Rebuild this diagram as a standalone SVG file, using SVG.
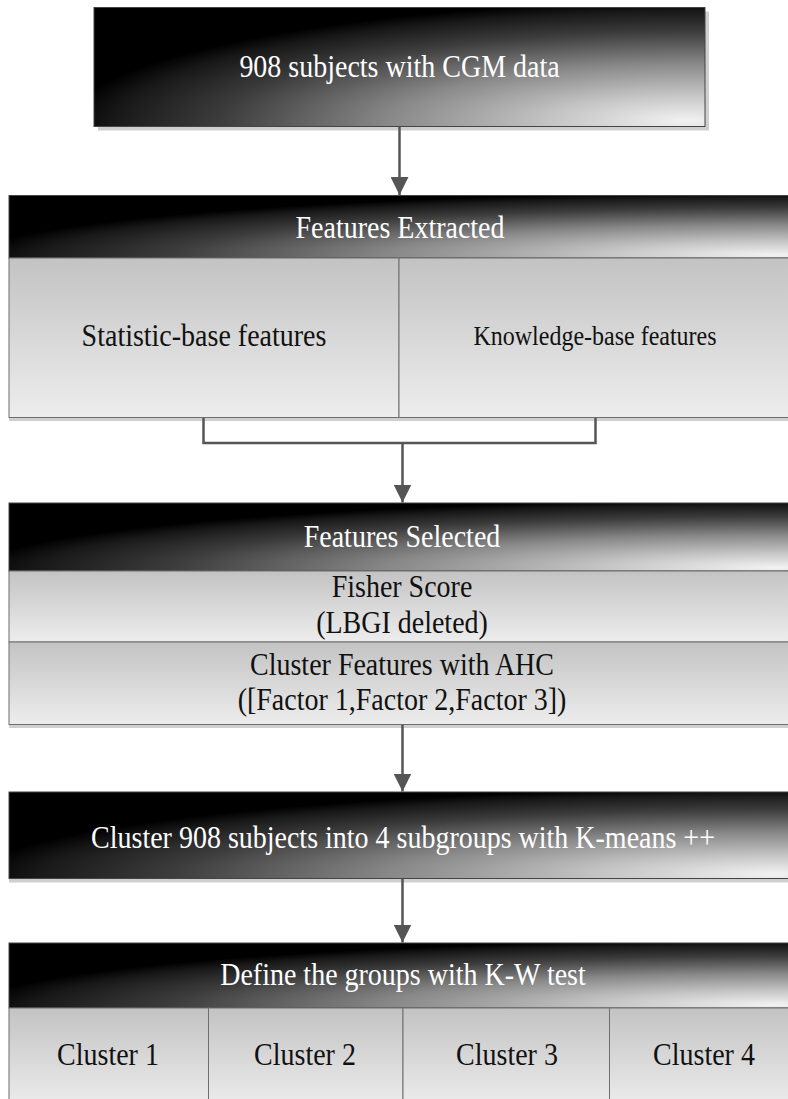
<svg xmlns="http://www.w3.org/2000/svg" width="788" height="1099" viewBox="0 0 788 1099">
  <defs>
    <radialGradient id="dark" cx="1" cy="1" r="1.05" fx="0.97" fy="0.95">
      <stop offset="0" stop-color="#f2f2f2"/>
      <stop offset="0.22" stop-color="#c4c4c4"/>
      <stop offset="0.48" stop-color="#888888"/>
      <stop offset="0.75" stop-color="#3c3c3c"/>
      <stop offset="0.92" stop-color="#181818"/>
      <stop offset="1" stop-color="#000000"/>
    </radialGradient>
    <linearGradient id="light" x1="0" y1="0" x2="0" y2="1">
      <stop offset="0" stop-color="#c3c3c3"/>
      <stop offset="1" stop-color="#ededed"/>
    </linearGradient>
    <marker id="arrow" markerUnits="userSpaceOnUse" markerWidth="18" markerHeight="18" viewBox="0 0 18 18" refX="18" refY="9" orient="auto">
      <path d="M0,0 L18,9 L0,18 Z" fill="#555555"/>
    </marker>
  </defs>
  <style>
    .dark { fill: url(#dark); stroke: #444444; stroke-width: 1; }
    .light { fill: url(#light); stroke: #6e6e6e; stroke-width: 1; }
    .shadow { fill: #cfcfcf; }
    .wt { font-family: "Liberation Serif", "Times New Roman", serif; font-size: 28px; fill: #ffffff; text-anchor: middle; }
    .bt { font-family: "Liberation Serif", "Times New Roman", serif; font-size: 28px; fill: #111111; text-anchor: middle; }
    .conn { fill: none; stroke: #555555; stroke-width: 2.5; }
  </style>

  <g id="node-cgm">
    <rect class="shadow" x="98" y="11.5" width="611" height="119"/>
    <rect class="dark" x="94" y="7.5" width="611" height="119"/>
    <text class="wt" transform="translate(399.5,77) scale(1,1.15)">908 subjects with CGM data</text>
  </g>

  <g id="node-extracted">
    <rect class="shadow" x="9" y="262" width="790" height="159"/>
    <rect class="dark" x="9" y="195.5" width="790" height="62.5"/>
    <text class="wt" transform="translate(400,238) scale(1,1.15)">Features Extracted</text>
    <g id="node-statistic">
      <rect class="light" x="9" y="258" width="390" height="159.5"/>
      <text class="bt" transform="translate(204,346) scale(1,1.15)">Statistic-base features</text>
    </g>
    <g id="node-knowledge">
      <rect class="light" x="399" y="258" width="400" height="159.5"/>
      <text class="bt" transform="translate(595,345) scale(1,1.15)" style="font-size:24px">Knowledge-base features</text>
    </g>
  </g>

  <g id="node-selected">
    <rect class="shadow" x="9" y="575" width="790" height="153"/>
    <rect class="dark" x="9" y="503" width="790" height="68"/>
    <text class="wt" transform="translate(402,547) scale(1,1.15)">Features Selected</text>
    <g id="node-fisher">
      <rect class="light" x="9" y="571" width="790" height="71"/>
      <text class="bt" transform="translate(402,597) scale(1,1.15)">Fisher Score</text>
      <text class="bt" transform="translate(402,633) scale(1,1.15)">(LBGI deleted)</text>
    </g>
    <g id="node-ahc">
      <rect class="light" x="9" y="642" width="790" height="82.5"/>
      <text class="bt" transform="translate(402,675) scale(1,1.15)">Cluster Features with AHC</text>
      <text class="bt" transform="translate(402,710) scale(1,1.15)">([Factor 1,Factor 2,Factor 3])</text>
    </g>
  </g>

  <g id="node-kmeans">
    <rect class="shadow" x="9" y="796" width="790" height="86.5"/>
    <rect class="dark" x="9" y="792" width="790" height="86.5"/>
    <text class="wt" transform="translate(403,848) scale(1,1.15)">Cluster 908 subjects into 4 subgroups with K-means ++</text>
  </g>

  <g id="node-define">
    <rect class="dark" x="9" y="943" width="790" height="65"/>
    <text class="wt" transform="translate(403,985) scale(1,1.15)">Define the groups with K-W test</text>
    <g id="node-cluster1">
      <rect class="light" x="9" y="1008" width="199.5" height="100"/>
      <text class="bt" transform="translate(108,1065) scale(1,1.15)">Cluster 1</text>
    </g>
    <g id="node-cluster2">
      <rect class="light" x="208.5" y="1008" width="194.5" height="100"/>
      <text class="bt" transform="translate(305,1065) scale(1,1.15)">Cluster 2</text>
    </g>
    <g id="node-cluster3">
      <rect class="light" x="403" y="1008" width="206.5" height="100"/>
      <text class="bt" transform="translate(507,1065) scale(1,1.15)">Cluster 3</text>
    </g>
    <g id="node-cluster4">
      <rect class="light" x="609.5" y="1008" width="190" height="100"/>
      <text class="bt" transform="translate(704,1065) scale(1,1.15)">Cluster 4</text>
    </g>
  </g>

  <g id="connectors">
    <line class="conn" x1="399.5" y1="127" x2="399.5" y2="195" marker-end="url(#arrow)"/>
    <polyline class="conn" points="203.5,418 203.5,443 595.5,443 595.5,418"/>
    <line class="conn" x1="402.5" y1="443" x2="402.5" y2="502.5" marker-end="url(#arrow)"/>
    <line class="conn" x1="402.5" y1="725" x2="402.5" y2="791.5" marker-end="url(#arrow)"/>
    <line class="conn" x1="402.5" y1="879" x2="402.5" y2="942.5" marker-end="url(#arrow)"/>
  </g>
</svg>
